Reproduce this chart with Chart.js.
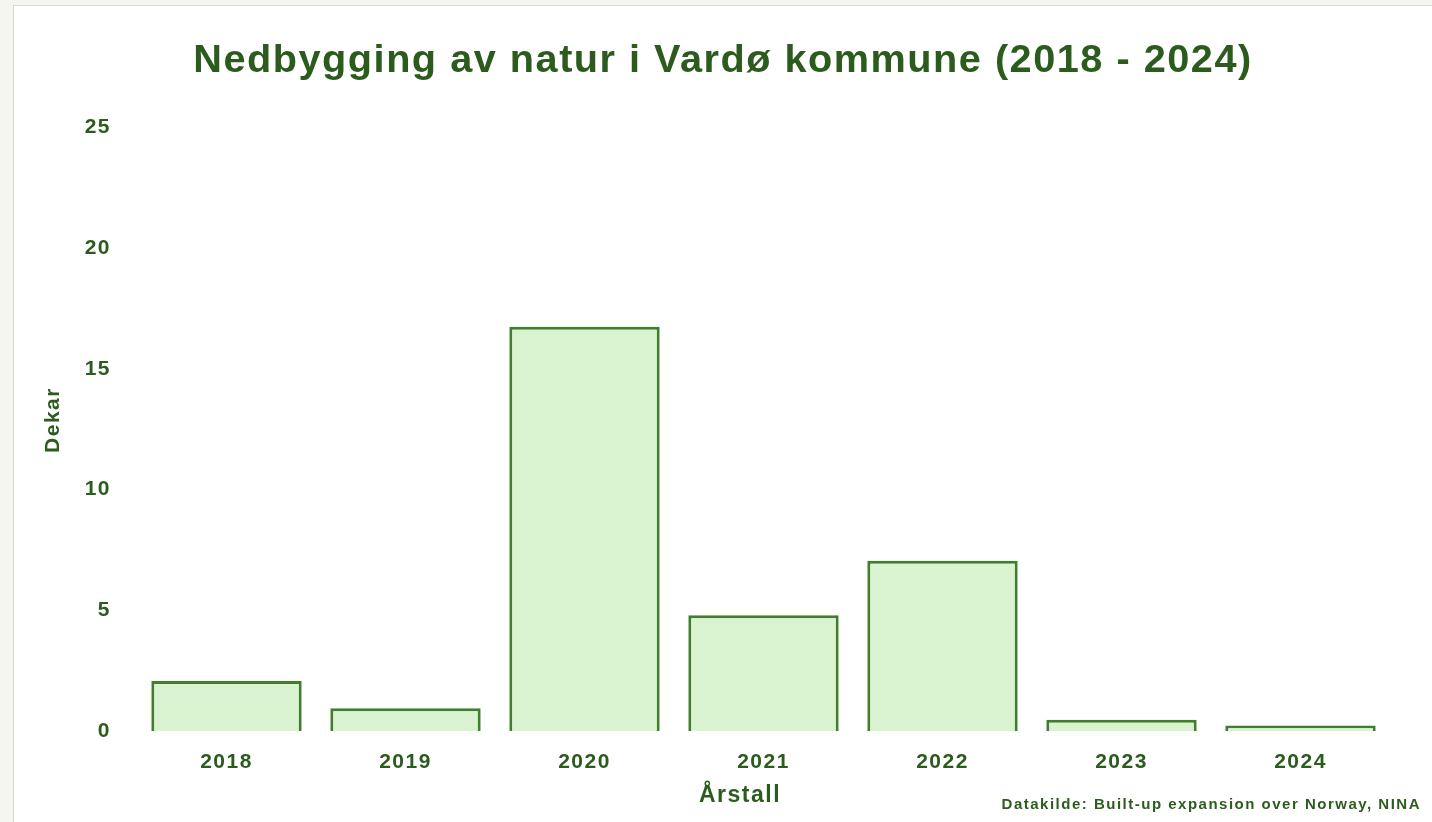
<!DOCTYPE html>
<html>
<head>
<meta charset="utf-8">
<script src="https://cdn.jsdelivr.net/npm/chart.js@4"></script>
<style>
  html, body { margin:0; padding:0; width:1432px; height:822px; overflow:hidden; background:#f6f6f1; }
  #card { position:absolute; left:13px; top:5px; width:1440px; height:840px; background:#ffffff; border:1px solid #d9d9d6; }
  #wrap { position:absolute; left:0; top:0; width:1432px; height:822px; }
</style>
</head>
<body>
<div id="card"></div>
<div id="wrap"><canvas id="c" width="1432" height="822"></canvas></div>
<script>
const categories = ['2018', '2019', '2020', '2021', '2022', '2023', '2024'];
const values = [2.07, 0.94, 16.75, 4.8, 7.05, 0.47, 0.23];
const yTicks = [0, 5, 10, 15, 20, 25];
const titleText = 'Nedbygging av natur i Vardø kommune (2018 - 2024)';
const yTitle = 'Dekar';
const xTitle = 'Årstall';
const sourceText = 'Datakilde: Built-up expansion over Norway, NINA';

const GREEN = '#2b5c1d';
const FONT = '"Liberation Sans", Arial, sans-serif';

const spacingPlugin = {
  id: 'spacing',
  beforeDraw(chart) { chart.ctx.letterSpacing = '1.5px'; }
};

const textPlugin = {
  id: 'extraText',
  afterDraw(chart) {
    const ctx = chart.ctx;
    ctx.save();
    ctx.letterSpacing = '1.5px';
    ctx.fillStyle = GREEN;
    ctx.font = 'bold 23px ' + FONT;
    ctx.textAlign = 'center';
    ctx.textBaseline = 'middle';
    ctx.fillText(xTitle, 740, 796);
    ctx.font = 'bold 21px ' + FONT;
    ctx.save();
    ctx.translate(53, 420);
    ctx.rotate(-Math.PI / 2);
    ctx.fillText(yTitle, 0, 0);
    ctx.restore();
    ctx.font = 'bold 15px ' + FONT;
    ctx.textAlign = 'right';
    ctx.fillText(sourceText, 1421, 805);
    ctx.restore();
  }
};

new Chart(document.getElementById('c'), {
  type: 'bar',
  data: {
    labels: categories,
    datasets: [{
      data: values,
      backgroundColor: '#d9f2d0',
      borderColor: '#3f7f2b',
      borderWidth: 3,
      barPercentage: 0.84,
      categoryPercentage: 1.0
    }]
  },
  options: {
    responsive: false,
    animation: false,
    layout: { padding: { left: 56, right: 42, top: 0, bottom: 0 } },
    plugins: {
      legend: { display: false },
      tooltip: { enabled: false },
      title: {
        display: true,
        text: titleText,
        color: GREEN,
        font: { family: FONT, size: 39.7, weight: 'bold' },
        padding: { top: 37, bottom: 43 }
      }
    },
    scales: {
      x: {
        grid: { display: false, drawTicks: false },
        border: { display: false },
        ticks: { color: GREEN, font: { family: FONT, size: 21, weight: 'bold' }, padding: 19 },
        afterFit(s) { s.height = 91; }
      },
      y: {
        min: 0, max: 25,
        afterBuildTicks(s) { s.ticks = yTicks.map(v => ({ value: v })); },
        grid: { display: false, drawTicks: false },
        border: { display: false },
        ticks: { color: GREEN, font: { family: FONT, size: 21, weight: 'bold' }, padding: 26 },
        afterFit(s) { s.width = 81; }
      }
    }
  },
  plugins: [spacingPlugin, textPlugin]
});
</script>
</body>
</html>
